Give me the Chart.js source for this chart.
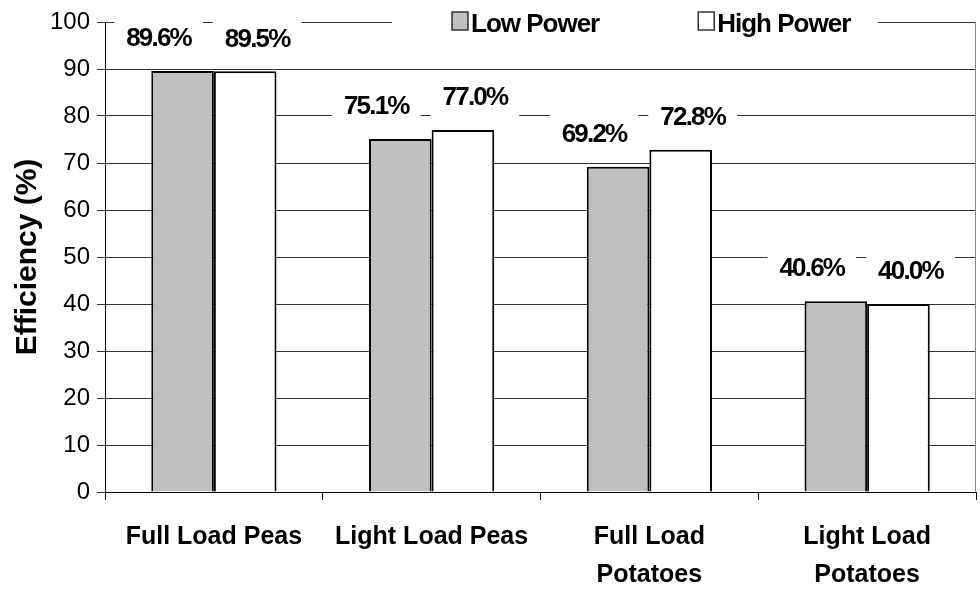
<!DOCTYPE html>
<html>
<head>
<meta charset="utf-8">
<script src="https://cdn.jsdelivr.net/npm/chart.js@4/dist/chart.umd.min.js"></script>
<style>
  body { margin: 0; background: #fff; }
</style>
</head>
<body>
<canvas id="myChart" width="980" height="598"></canvas>
<script>
const categories = ['Full Load Peas', 'Light Load Peas', ['Full Load', 'Potatoes'], ['Light Load', 'Potatoes']];
const seriesNames = ['Low Power', 'High Power'];
const lowPower = [89.6, 75.1, 69.2, 40.6];
const highPower = [89.5, 77.0, 72.8, 40.0];
const barColors = ['#c0c0c0', '#ffffff'];

Chart.defaults.font.family = '"Liberation Sans", Arial, sans-serif';
Chart.defaults.color = '#000';

// value labels with white boxes, nudged apart like the original
const barLabels = {
  id: 'barLabels',
  afterDatasetsDraw(chart) {
    const ctx = chart.ctx;
    ctx.save();
    ctx.font = 'bold 26px "Liberation Sans", Arial, sans-serif';
    ctx.letterSpacing = '-1.8px';
    ctx.textAlign = 'center';
    ctx.textBaseline = 'middle';
    chart.data.datasets.forEach((ds, i) => {
      const nudge = i === 0 ? -24 : 12;
      chart.getDatasetMeta(i).data.forEach((bar, j) => {
        const text = ds.data[j].toFixed(1) + '%';
        const x = bar.x + nudge;
        const y = bar.y - 32;
        const w = ctx.measureText(text).width + 24;
        ctx.fillStyle = '#fff';
        ctx.fillRect(x - w / 2, y - 26, w, 52);
        ctx.fillStyle = '#000';
        ctx.fillText(text, x, y);
      });
    });
    ctx.restore();
  }
};

// right edge of the plot + legend sitting on the top gridline
const frameAndLegend = {
  id: 'frameAndLegend',
  beforeDatasetsDraw(chart) {
    const { ctx, chartArea } = chart;
    ctx.save();
    ctx.strokeStyle = '#888';
    ctx.lineWidth = 1;
    ctx.beginPath();
    ctx.moveTo(chartArea.right - 0.5, chartArea.top);
    ctx.lineTo(chartArea.right - 0.5, chartArea.bottom);
    ctx.stroke();
    ctx.restore();
  },
  afterDraw(chart) {
    const ctx = chart.ctx;
    ctx.save();
    ctx.fillStyle = '#fff';
    ctx.fillRect(392, 6, 486, 36);
    ctx.font = 'bold 26px "Liberation Sans", Arial, sans-serif';
    ctx.letterSpacing = '-1px';
    ctx.textBaseline = 'middle';
    let x = 452;
    chart.data.datasets.forEach(ds => {
      ctx.fillStyle = ds.backgroundColor;
      ctx.fillRect(x, 12, 16, 18);
      ctx.strokeStyle = '#333';
      ctx.lineWidth = 1.5;
      ctx.strokeRect(x, 12, 16, 18);
      ctx.fillStyle = '#000';
      ctx.fillText(ds.label, x + 19, 25);
      x += 19 + ctx.measureText(ds.label).width + 99;
    });
    ctx.restore();
  }
};

new Chart('myChart', {
  type: 'bar',
  data: {
    labels: categories,
    datasets: [
      { label: seriesNames[0], data: lowPower, backgroundColor: barColors[0], borderColor: '#000', borderWidth: 2 },
      { label: seriesNames[1], data: highPower, backgroundColor: barColors[1], borderColor: '#000', borderWidth: 2 }
    ]
  },
  options: {
    responsive: false,
    devicePixelRatio: 1,
    animation: false,
    categoryPercentage: 0.575,
    barPercentage: 1,
    layout: { padding: { top: 22, right: 4, left: 0, bottom: 0 } },
    plugins: {
      legend: { display: false },
      tooltip: { enabled: false }
    },
    scales: {
      x: {
        grid: { drawOnChartArea: false, color: '#000', tickLength: 8 },
        border: { color: '#000', width: 1 },
        ticks: { font: { size: 25, weight: 'bold', lineHeight: 1.52 }, padding: 18, maxRotation: 0 },
        afterFit(scale) { scale.height = 106; }
      },
      y: {
        min: 0,
        max: 100,
        ticks: { stepSize: 10, font: { size: 24 }, padding: 7 },
        grid: { color: '#333', tickLength: 8 },
        border: { color: '#000', width: 1 },
        title: { display: true, text: 'Efficiency (%)', font: { size: 30, weight: 'bold' }, padding: { top: 10, bottom: 0 } },
        afterFit(scale) { scale.width = 105; }
      }
    }
  },
  plugins: [barLabels, frameAndLegend]
});
</script>
</body>
</html>
